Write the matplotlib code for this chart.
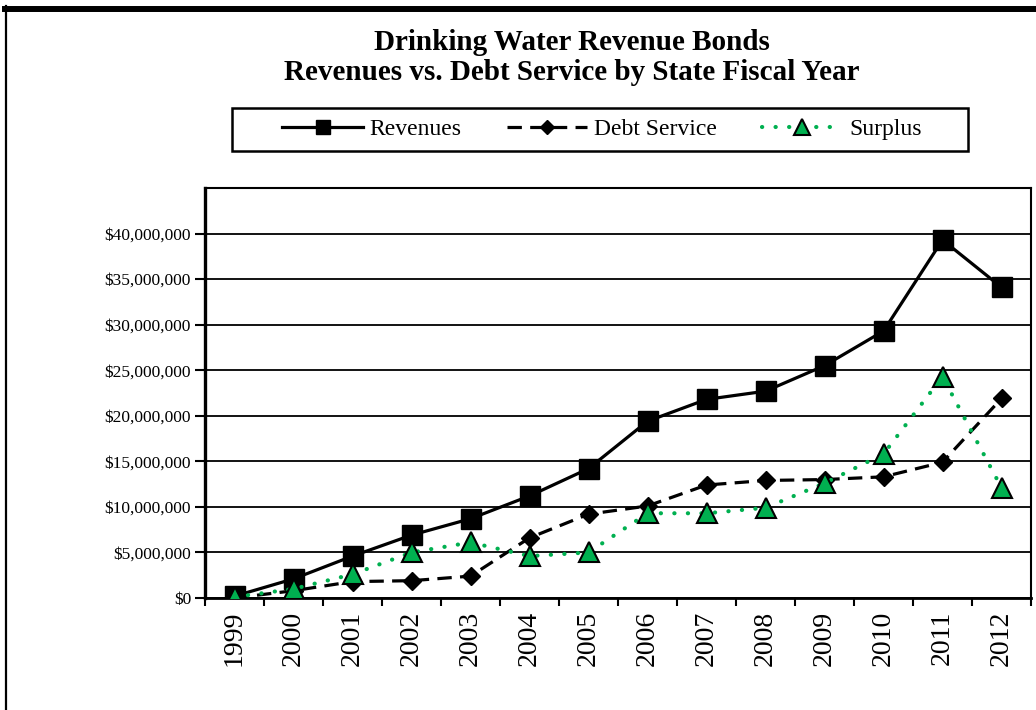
import matplotlib
matplotlib.use("Agg")
import matplotlib.pyplot as plt
from matplotlib.lines import Line2D
from matplotlib.patches import Rectangle
from matplotlib.ticker import FixedLocator, FuncFormatter
import numpy as np

years = ["1999", "2000", "2001", "2002", "2003", "2004", "2005", "2006",
         "2007", "2008", "2009", "2010", "2011", "2012"]
revenues = [0.2e6, 2.1e6, 4.6e6, 6.9e6, 8.7e6, 11.2e6, 14.2e6, 19.4e6,
            21.8e6, 22.7e6, 25.5e6, 29.3e6, 39.3e6, 34.1e6]
debt_service = [0.0, 0.8e6, 1.8e6, 1.9e6, 2.4e6, 6.6e6, 9.2e6, 10.1e6,
                12.4e6, 12.9e6, 13.0e6, 13.3e6, 14.9e6, 21.9e6]
surplus = [0.1e6, 1.0e6, 2.6e6, 5.0e6, 6.1e6, 4.6e6, 5.0e6, 9.3e6,
           9.3e6, 9.9e6, 12.6e6, 15.8e6, 24.3e6, 12.1e6]
yticks = [0, 5e6, 10e6, 15e6, 20e6, 25e6, 30e6, 35e6, 40e6]

W, H = 1036, 710
SERIF = ["Liberation Serif", "DejaVu Serif"]
GREEN = "#00B050"

fig = plt.figure(figsize=(W / 100, H / 100), dpi=100)
fig.patch.set_facecolor("white")

ax = fig.add_axes([205 / W, 1 - 598 / H, (1031 - 205) / W, (598 - 188) / H])
x = np.arange(len(years))

ax.plot(x, revenues, color="black", lw=2.3, marker="s", ms=14,
        mfc="black", mec="black", label="Revenues", zorder=5)
ax.plot(x, debt_service, color="black", lw=2.3, ls=(0, (4.5, 2.6)),
        marker="D", ms=9.5, mfc="black", mec="black", label="Debt Service",
        zorder=4)
ax.plot(x, surplus, color=GREEN, lw=3, ls=(0, (0.05, 3.2)),
        dash_capstyle="round", marker="^", ms=15, mfc=GREEN, mec="black",
        mew=1.5, label="Surplus", zorder=6)

ax.set_xlim(-0.5, len(years) - 0.5)
ax.set_ylim(0, 45e6)
ax.yaxis.set_major_locator(FixedLocator(yticks))
ax.yaxis.set_major_formatter(FuncFormatter(lambda v, p: "${:,.0f}".format(v)))
ax.grid(axis="y", color="black", lw=1.3, zorder=1)
ax.set_axisbelow(True)

ax.set_xticks(np.arange(-0.5, len(years)), minor=False)
ax.set_xticklabels([])
ax.set_xticks(x, minor=True)
ax.set_xticklabels(years, minor=True, rotation=90, fontsize=20,
                   family=SERIF)
ax.tick_params(axis="x", which="major", direction="out", length=6,
               width=1.5)
ax.tick_params(axis="x", which="minor", length=0, pad=9)
ax.tick_params(axis="y", direction="out", length=7, width=1.5, pad=3)
for lbl in ax.get_yticklabels():
    lbl.set_family(SERIF)
    lbl.set_fontsize(12.5)

ax.spines["left"].set_linewidth(2.4)
ax.spines["bottom"].set_linewidth(2.0)
ax.spines["top"].set_linewidth(1.5)
ax.spines["right"].set_linewidth(1.5)
for s in ax.spines.values():
    s.set_color("black")

fig.text(572 / W, 1 - 42 / H, "Drinking Water Revenue Bonds",
         ha="center", va="center", fontsize=21, fontweight="bold",
         family=SERIF)
fig.text(572 / W, 1 - 73 / H,
         "Revenues vs. Debt Service by State Fiscal Year",
         ha="center", va="center", fontsize=21, fontweight="bold",
         family=SERIF)

leg = fig.legend(loc="center", bbox_to_anchor=(602 / W, 1 - 129.5 / H),
                 ncol=3, frameon=False,
                 prop={"family": SERIF, "size": 17}, handlelength=3.4,
                 handletextpad=0.3, columnspacing=1.9, borderpad=0.3,
                 borderaxespad=0, markerscale=0.75)
fig.add_artist(Rectangle((232 / W, 1 - 151 / H), (968 - 232) / W,
                         (151 - 108) / H, transform=fig.transFigure,
                         facecolor="none", edgecolor="black", lw=1.8))

# figure border (partially visible)
fig.add_artist(Line2D([5 / W, 1.0], [1 - 9 / H, 1 - 9 / H],
                      transform=fig.transFigure, color="black", lw=4.3))
fig.add_artist(Line2D([6 / W, 6 / W], [0.0, 1 - 6 / H],
                      transform=fig.transFigure, color="black", lw=1.6))

fig.savefig("out.png", dpi=100, facecolor="white")
